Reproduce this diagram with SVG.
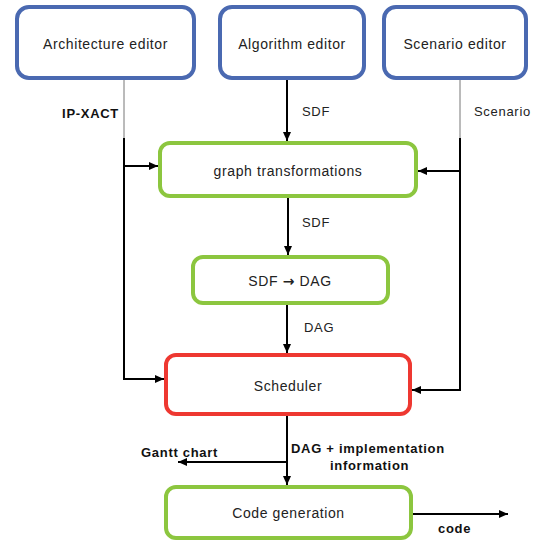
<svg xmlns="http://www.w3.org/2000/svg" width="540" height="541" viewBox="0 0 540 541">
<style>
.box{fill:#fff;stroke-width:4}
.blue{stroke:#4A69B1}
.green{stroke:#8CC63F}
.red{stroke:#EE3831}
.t{font-family:"Liberation Sans",Arial,sans-serif;font-size:14px;letter-spacing:0.6px;fill:#222;text-anchor:middle}
.l{font-family:"Liberation Sans",Arial,sans-serif;font-size:13px;letter-spacing:0.7px;fill:#222}
.b{font-weight:bold;fill:#111}
.c{fill:none;stroke:#000;stroke-width:2}
.g{fill:none;stroke:#777;stroke-width:1}
.arr{font-family:"DejaVu Sans",sans-serif;font-size:14px;font-weight:bold}
</style>
<defs>
<marker id="ah" markerUnits="userSpaceOnUse" markerWidth="9" markerHeight="8" refX="9" refY="4" orient="auto">
<path d="M0,0 L9,4 L0,8 z" fill="#000"/>
</marker>
</defs>
<g id="arch"><rect class="box blue" x="17" y="7" width="177" height="71" rx="12"/><text class="t" x="105.5" y="49">Architecture editor</text></g>
<g id="algo"><rect class="box blue" x="220" y="7" width="144" height="71" rx="12"/><text class="t" x="292" y="49">Algorithm editor</text></g>
<g id="scen"><rect class="box blue" x="384" y="7" width="142" height="71" rx="12"/><text class="t" x="455" y="49">Scenario editor</text></g>
<g id="graph"><rect class="box green" x="160" y="143" width="256" height="53" rx="10"/><text class="t" x="288" y="176">graph transformations</text></g>
<g id="sdfdag"><rect class="box green" x="193" y="257" width="195" height="46" rx="10"/><text class="t" x="290" y="286">SDF <tspan class="arr">→</tspan> DAG</text></g>
<g id="sched"><rect class="box red" x="166" y="355" width="244" height="59" rx="10"/><text class="t" x="288" y="391">Scheduler</text></g>
<g id="codegen"><rect class="box green" x="166" y="487" width="245" height="51" rx="10"/><text class="t" x="288.5" y="518">Code generation</text></g>
<g id="connectors">
<path class="g" d="M124,80 V138"/>
<path class="c" d="M124,138 V379 H164" marker-end="url(#ah)"/>
<path class="c" d="M124,166 H158" marker-end="url(#ah)"/>
<path class="c" d="M287,80 V141" marker-end="url(#ah)"/>
<path class="g" d="M460,80 V138"/>
<path class="c" d="M460,138 V390 H412" marker-end="url(#ah)"/>
<path class="c" d="M460,171 H418" marker-end="url(#ah)"/>
<path class="c" d="M288,198 V255" marker-end="url(#ah)"/>
<path class="c" d="M287,305 V353" marker-end="url(#ah)"/>
<path class="c" d="M287,416 V485" marker-end="url(#ah)"/>
<path class="c" d="M287,462 H178" marker-end="url(#ah)"/>
<path class="c" d="M413,514 H508" marker-end="url(#ah)"/>
</g>
<g id="labels">
<text class="l b" x="119" y="118" text-anchor="end">IP-XACT</text>
<text class="l" x="302" y="116">SDF</text>
<text class="l" x="474" y="116">Scenario</text>
<text class="l" x="302" y="227">SDF</text>
<text class="l" x="304" y="332">DAG</text>
<text class="l b" x="141" y="457">Gantt chart</text>
<text class="l b" x="291" y="453">DAG + implementation</text>
<text class="l b" x="330" y="470">information</text>
<text class="l b" x="438" y="533">code</text>
</g>
</svg>
